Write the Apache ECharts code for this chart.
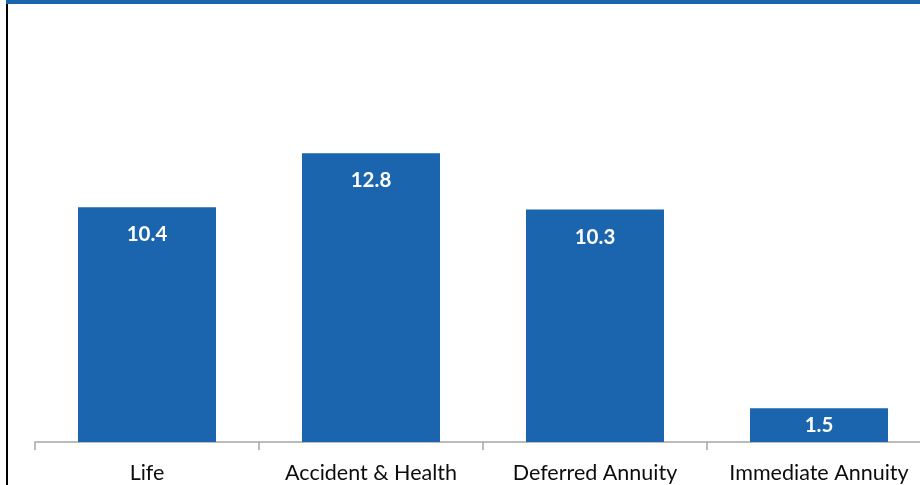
<!DOCTYPE html>
<html>
<head>
<meta charset="utf-8">
<script src="https://cdn.jsdelivr.net/npm/echarts@6/dist/echarts.min.js"></script>
<style>
html,body{margin:0;padding:0;background:#fff;overflow:hidden;width:920px;height:485px;}
#chart{width:940px;height:485px;}
</style>
</head>
<body>
<div id="chart"></div>
<script>
const categories = ["Life", "Accident & Health", "Deferred Annuity", "Immediate Annuity"];
const values = [10.4, 12.8, 10.3, 1.5];

const BLUE = "#1B65AE";
const chart = echarts.init(document.getElementById("chart"));
chart.setOption({
  animation: false,
  backgroundColor: "#ffffff",
  grid: { left: 35, top: 81, width: 896, height: 361, containLabel: false },
  xAxis: {
    type: "category",
    data: categories,
    boundaryGap: true,
    axisLine: { show: true, lineStyle: { color: "#A6A6A6", width: 1.5 } },
    axisTick: { show: true, alignWithLabel: false, length: 8, lineStyle: { color: "#A6A6A6", width: 1.5 } },
    axisLabel: { color: "#0d0d0d", fontFamily: "Lato", fontSize: 21.5, margin: 20, interval: 0 }
  },
  yAxis: {
    type: "value",
    min: 0, max: 16,
    show: false,
    splitLine: { show: false }
  },
  series: [{
    type: "bar",
    data: values.map(v => v < 3
      ? { value: v, label: { position: "inside", distance: 0 } }
      : { value: v }),
    barWidth: 138,
    itemStyle: { color: BLUE },
    label: {
      show: true,
      position: "insideTop",
      distance: 17,
      color: "#ffffff",
      fontFamily: "Lato",
      fontWeight: "bold",
      fontSize: 20.5,
      formatter: p => p.value.toFixed(1)
    }
  }],
  graphic: [
    { type: "rect", left: 6, top: 0, shape: { width: 934, height: 4 }, style: { fill: BLUE }, silent: true },
    { type: "rect", left: 6, top: 4, shape: { width: 2, height: 481 }, style: { fill: "#000" }, silent: true }
  ]
});
</script>
</body>
</html>
